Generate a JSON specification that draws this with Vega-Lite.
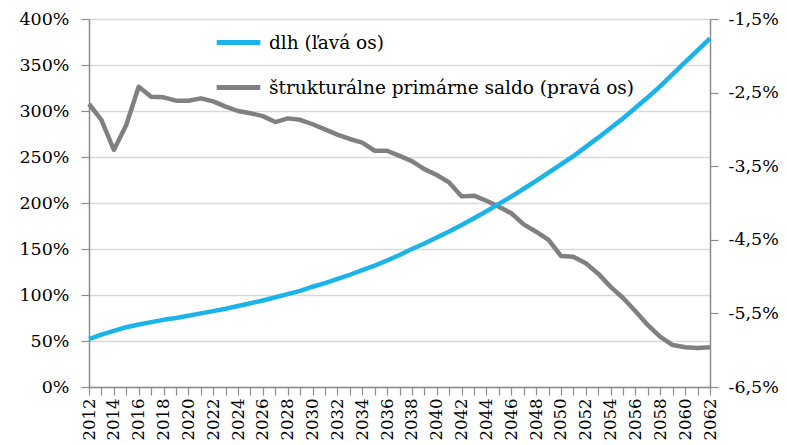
{
  "$schema": "https://vega.github.io/schema/vega-lite/v6.json",
  "width": 621,
  "height": 368,
  "autosize": {"type": "none"},
  "padding": {"left": 89, "top": 19, "right": 77, "bottom": 58},
  "background": "white",
  "config": {
    "view": {"stroke": null},
    "font": "DejaVu Serif"
  },
  "data": {
    "values": [
      {"year": 2012, "dlh": 52, "saldo": -2.655},
      {"year": 2013, "dlh": 57, "saldo": -2.87},
      {"year": 2014, "dlh": 61, "saldo": -3.28},
      {"year": 2015, "dlh": 65, "saldo": -2.94},
      {"year": 2016, "dlh": 68, "saldo": -2.42},
      {"year": 2017, "dlh": 70.5, "saldo": -2.556},
      {"year": 2018, "dlh": 73, "saldo": -2.564},
      {"year": 2019, "dlh": 75, "saldo": -2.61},
      {"year": 2020, "dlh": 77.5, "saldo": -2.61},
      {"year": 2021, "dlh": 80, "saldo": -2.578},
      {"year": 2022, "dlh": 82.5, "saldo": -2.62},
      {"year": 2023, "dlh": 85, "saldo": -2.69},
      {"year": 2024, "dlh": 88, "saldo": -2.75},
      {"year": 2025, "dlh": 91, "saldo": -2.78},
      {"year": 2026, "dlh": 94, "saldo": -2.82},
      {"year": 2027, "dlh": 97.5, "saldo": -2.9},
      {"year": 2028, "dlh": 101, "saldo": -2.85},
      {"year": 2029, "dlh": 104.5, "saldo": -2.87},
      {"year": 2030, "dlh": 109, "saldo": -2.93},
      {"year": 2031, "dlh": 113, "saldo": -3.0},
      {"year": 2032, "dlh": 117.5, "saldo": -3.07},
      {"year": 2033, "dlh": 122, "saldo": -3.13},
      {"year": 2034, "dlh": 127, "saldo": -3.18},
      {"year": 2035, "dlh": 132, "saldo": -3.29},
      {"year": 2036, "dlh": 137.5, "saldo": -3.29},
      {"year": 2037, "dlh": 143.5, "saldo": -3.36},
      {"year": 2038, "dlh": 150, "saldo": -3.43},
      {"year": 2039, "dlh": 156, "saldo": -3.54},
      {"year": 2040, "dlh": 162.5, "saldo": -3.62},
      {"year": 2041, "dlh": 169, "saldo": -3.72},
      {"year": 2042, "dlh": 176, "saldo": -3.91},
      {"year": 2043, "dlh": 183.5, "saldo": -3.9},
      {"year": 2044, "dlh": 191, "saldo": -3.97},
      {"year": 2045, "dlh": 199, "saldo": -4.05},
      {"year": 2046, "dlh": 207, "saldo": -4.14},
      {"year": 2047, "dlh": 215.5, "saldo": -4.29},
      {"year": 2048, "dlh": 224, "saldo": -4.39},
      {"year": 2049, "dlh": 233, "saldo": -4.5},
      {"year": 2050, "dlh": 242, "saldo": -4.72},
      {"year": 2051, "dlh": 251, "saldo": -4.73},
      {"year": 2052, "dlh": 261, "saldo": -4.82},
      {"year": 2053, "dlh": 271, "saldo": -4.96},
      {"year": 2054, "dlh": 281.5, "saldo": -5.14},
      {"year": 2055, "dlh": 292, "saldo": -5.29},
      {"year": 2056, "dlh": 303.5, "saldo": -5.47},
      {"year": 2057, "dlh": 315, "saldo": -5.66},
      {"year": 2058, "dlh": 327, "saldo": -5.82},
      {"year": 2059, "dlh": 340, "saldo": -5.93},
      {"year": 2060, "dlh": 353, "saldo": -5.96},
      {"year": 2061, "dlh": 366, "saldo": -5.97},
      {"year": 2062, "dlh": 379, "saldo": -5.96}
    ]
  },
  "encoding": {
    "x": {
      "field": "year",
      "type": "quantitative",
      "scale": {"domain": [2012, 2062], "nice": false, "zero": false},
      "axis": {
        "title": null,
        "values": [2012,2013,2014,2015,2016,2017,2018,2019,2020,2021,2022,2023,2024,2025,2026,2027,2028,2029,2030,2031,2032,2033,2034,2035,2036,2037,2038,2039,2040,2041,2042,2043,2044,2045,2046,2047,2048,2049,2050,2051,2052,2053,2054,2055,2056,2057,2058,2059,2060,2061,2062],
        "labelExpr": "datum.value % 2 == 0 ? '' + datum.value : ''",
        "labelAngle": -90,
        "labelFont": "DejaVu Serif",
        "labelFontSize": 16.5,
        "labelColor": "#000000",
        "labelPadding": 3,
        "labelOverlap": false,
        "labelFlush": false,
        "grid": false,
        "domainColor": "#8c8c8c",
        "domainWidth": 1.5,
        "tickColor": "#8c8c8c",
        "tickWidth": 1.2,
        "tickSize": 8
      }
    }
  },
  "layer": [
    {
      "mark": {"type": "line", "strokeWidth": 4.5, "strokeJoin": "round"},
      "encoding": {
        "y": {
          "field": "saldo",
          "type": "quantitative",
          "scale": {"domain": [-6.5, -1.5], "nice": false, "zero": false},
          "axis": {
            "orient": "right",
            "title": null,
            "values": [-6.5, -5.5, -4.5, -3.5, -2.5, -1.5],
            "labelExpr": "(datum.value < 0 ? '-' : '') + replace(format(abs(datum.value), '.1f'), '.', ',') + '%'",
            "labelFont": "DejaVu Serif",
            "labelFontSize": 17.5,
            "labelColor": "#000000",
            "labelPadding": 10,
            "grid": false,
            "domainColor": "#8c8c8c",
            "domainWidth": 1.5,
            "tickColor": "#8c8c8c",
            "tickWidth": 1.2,
            "tickSize": 8
          }
        },
        "color": {
          "datum": "štrukturálne primárne saldo (pravá os)",
          "type": "nominal",
          "scale": {
            "domain": ["dlh (ľavá os)", "štrukturálne primárne saldo (pravá os)"],
            "range": ["#1ab4e8", "#808080"]
          },
          "legend": {
            "title": null,
            "orient": "none",
            "legendX": 125,
            "legendY": -1,
            "symbolType": "stroke",
            "symbolSize": 1900,
            "symbolStrokeWidth": 5,
            "labelFont": "DejaVu Serif",
            "labelFontSize": 18.5,
            "labelColor": "#000000",
            "labelLimit": 500,
            "rowPadding": 10,
            "labelOffset": 6
          }
        }
      }
    },
    {
      "mark": {"type": "line", "strokeWidth": 4.5, "strokeJoin": "round"},
      "encoding": {
        "y": {
          "field": "dlh",
          "type": "quantitative",
          "scale": {"domain": [0, 400], "nice": false},
          "axis": {
            "orient": "left",
            "title": null,
            "values": [0, 50, 100, 150, 200, 250, 300, 350, 400],
            "labelExpr": "datum.value + '%'",
            "labelFont": "DejaVu Serif",
            "labelFontSize": 17.5,
            "labelColor": "#000000",
            "labelPadding": 12,
            "grid": true,
            "gridColor": "#d9d9d9",
            "gridWidth": 1.5,
            "domainColor": "#8c8c8c",
            "domainWidth": 1.5,
            "tickColor": "#8c8c8c",
            "tickWidth": 1.2,
            "tickSize": 8,
            "zindex": 0
          }
        },
        "color": {"datum": "dlh (ľavá os)", "type": "nominal"}
      }
    }
  ],
  "resolve": {"scale": {"y": "independent"}, "axis": {"y": "independent"}}
}
